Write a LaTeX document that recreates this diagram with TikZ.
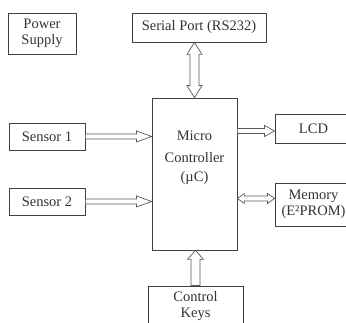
\documentclass[tikz,border=0pt]{standalone}
\usepackage{fontspec}
\setmainfont{Liberation Serif}
\usetikzlibrary {positioning,calc}

\begin{document}
\begin{tikzpicture}[auto ,node distance =2 cm and 3cm ,on grid ,
block/.style ={ rectangle ,draw =black!75 ,line width =0.8pt ,
inner sep =0pt ,align =center ,text =black!80 ,
font =\fontsize{14.5}{16.5}\selectfont},
fatarrow/.style n args ={3}{draw =black!65 ,line width =0.7pt ,fill =white ,
to path ={-- ($(\tikztostart)!#1!90:(\tikztotarget)$)
 -- ($(\tikztotarget)!#3!(\tikztostart)!#1!90:(\tikztotarget)$)
 -- ($(\tikztotarget)!#3!(\tikztostart)!#2!90:(\tikztotarget)$)
 -- (\tikztotarget)
 -- ($(\tikztotarget)!#3!(\tikztostart)!#2!-90:(\tikztotarget)$)
 -- ($(\tikztotarget)!#3!(\tikztostart)!#1!-90:(\tikztotarget)$)
 -- ($(\tikztostart)!#1!-90:(\tikztotarget)$) -- cycle}},
dblarrow/.style n args ={3}{draw =black!65 ,line width =0.7pt ,fill =white ,
to path ={-- ($(\tikztostart)!#3!(\tikztotarget)!#2!90:(\tikztotarget)$)
 -- ($(\tikztostart)!#3!(\tikztotarget)!#1!90:(\tikztotarget)$)
 -- ($(\tikztotarget)!#3!(\tikztostart)!#1!90:(\tikztotarget)$)
 -- ($(\tikztotarget)!#3!(\tikztostart)!#2!90:(\tikztotarget)$)
 -- (\tikztotarget)
 -- ($(\tikztotarget)!#3!(\tikztostart)!#2!-90:(\tikztotarget)$)
 -- ($(\tikztotarget)!#3!(\tikztostart)!#1!-90:(\tikztotarget)$)
 -- ($(\tikztostart)!#3!(\tikztotarget)!#1!-90:(\tikztotarget)$)
 -- ($(\tikztostart)!#3!(\tikztotarget)!#2!-90:(\tikztotarget)$) -- cycle}}
]
\useasboundingbox (-194.5pt,174pt) rectangle (151.5pt,-149pt);
% the controller in the middle, everything else around it
\node[block ,minimum width =85pt ,minimum height =152pt ,
label ={[name =mclabel ,anchor =north ,yshift =-33pt ,inner sep =0pt ,align =center ,
text =black!80 ,font =\fontsize{14.5}{16.5}\selectfont]north:{Micro\\[6pt]Controller\\[2pt](µC)}}] (mc) {};
\node[block ,minimum width =134pt ,minimum height =29pt] (serial) [above right =146.5pt and 4.5pt of mc] {Serial Port (RS232)};
\node[block ,minimum width =68pt ,minimum height =41pt] (power) [above left =140.5pt and 152.5pt of mc] {Power\\Supply};
\node[block ,minimum width =76pt ,minimum height =27pt] (s1) [above left =37.5pt and 147.5pt of mc] {Sensor 1};
\node[block ,minimum width =76pt ,minimum height =27pt] (s2) [below left =27.5pt and 147.5pt of mc] {Sensor 2};
\node[block ,minimum width =77pt ,minimum height =29pt] (lcd) [above right =45.5pt and 119pt of mc] {LCD};
\node[block ,minimum width =77pt ,minimum height =43pt] (mem) [below right =30.5pt and 119pt of mc] {Memory\\(E²PROM)};
\node[block ,minimum width =95pt ,minimum height =40pt] (keys) [below right =132pt and 1pt of mc] {Control\\Keys};
\coordinate (lcdin) at ([yshift =-2.5pt]lcd.west);
\coordinate (memin) at ([yshift =6pt]mem.west);
% hollow block arrows
\draw[dblarrow ={4.5pt}{7.5pt}{12pt}] (mc.north |- serial.south) to (mc.north);
\draw[fatarrow ={2.5pt}{5.5pt}{15pt}] (s1.east) to (s1.east -| mc.west);
\draw[fatarrow ={2.5pt}{5.5pt}{15pt}] (s2.east) to (s2.east -| mc.west);
\draw[fatarrow ={2.5pt}{5.5pt}{10pt}] (lcdin -| mc.east) to (lcdin);
\draw[dblarrow ={2.5pt}{5pt}{7pt}] (memin -| mc.east) to (memin);
\draw[fatarrow ={4.5pt}{8pt}{9pt}] (keys.north) to (keys.north |- mc.south);
\end{tikzpicture}
\end{document}
